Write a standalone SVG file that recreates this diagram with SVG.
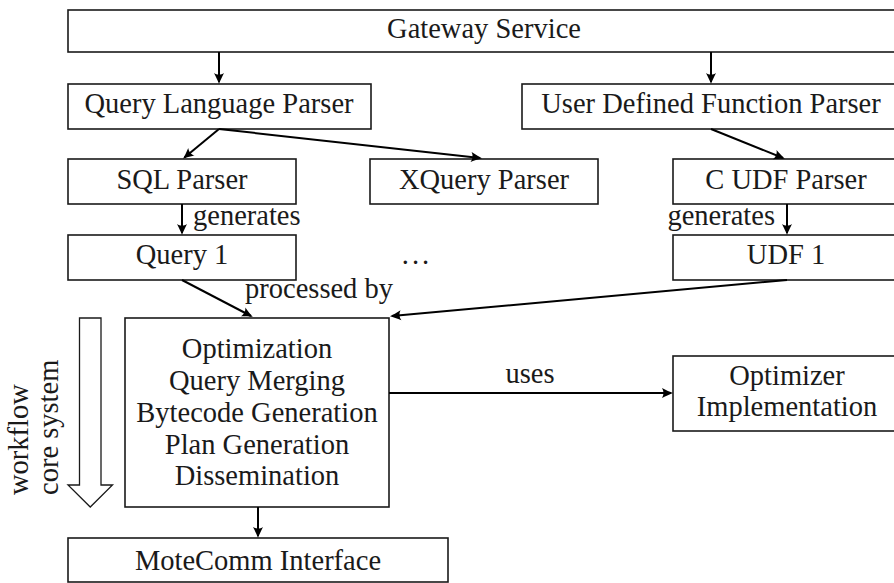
<svg xmlns="http://www.w3.org/2000/svg" width="894" height="583" viewBox="0 0 894 583">
  <style>
    .box { fill: #ffffff; stroke: #1a1a1a; stroke-width: 1.6; }
    .lbl { font-family: "Liberation Serif", "DejaVu Serif", serif; font-size: 28.5px; fill: #1a1a1a; }
    .mid { text-anchor: middle; }
    .end { text-anchor: end; }
    .edge { fill: none; stroke: #000000; stroke-width: 2; marker-end: url(#tip); }
  </style>
  <defs>
    <marker id="tip" markerUnits="userSpaceOnUse" markerWidth="16" markerHeight="12" viewBox="-12 -6 16 12" refX="0" refY="0" orient="auto" overflow="visible">
      <path d="M 2 0 C -1 -1 -5 -3 -9 -5 C -7 -2 -7 2 -9 5 C -5 3 -1 1 2 0 Z" fill="#000000"/>
    </marker>
  </defs>

  <rect width="894" height="583" fill="#ffffff"/>

  <!-- workflow indicator: hollow down arrow with rotated caption -->
  <g id="workflow">
    <polygon points="79.5,318 101,318 101,485 112.5,485 90.25,507 68,485 79.5,485" fill="#ffffff" stroke="#1a1a1a" stroke-width="1.3"/>
    <text class="lbl" x="28" y="495" transform="rotate(-90 28 495)">workflow</text>
    <text class="lbl" x="58" y="495" transform="rotate(-90 58 495)">core system</text>
  </g>

  <g id="gateway">
    <rect class="box" x="68" y="10" width="840" height="42"/>
    <text class="lbl mid" x="484" y="38">Gateway Service</text>
  </g>

  <g id="query-language-parser">
    <rect class="box" x="68" y="84" width="303" height="45"/>
    <text class="lbl mid" x="219" y="113">Query Language Parser</text>
  </g>

  <g id="udf-parser">
    <rect class="box" x="522" y="84" width="386" height="45"/>
    <text class="lbl mid" x="711" y="113">User Defined Function Parser</text>
  </g>

  <g id="sql-parser">
    <rect class="box" x="68" y="159" width="228" height="45"/>
    <text class="lbl mid" x="182" y="189">SQL Parser</text>
  </g>

  <g id="xquery-parser">
    <rect class="box" x="370" y="159" width="228" height="45"/>
    <text class="lbl mid" x="484" y="189">XQuery Parser</text>
  </g>

  <g id="c-udf-parser">
    <rect class="box" x="673" y="159" width="235" height="45"/>
    <text class="lbl mid" x="786" y="189">C UDF Parser</text>
  </g>

  <g id="query1">
    <rect class="box" x="68" y="235" width="228" height="45"/>
    <text class="lbl mid" x="182" y="264">Query 1</text>
  </g>

  <g id="ellipsis">
    <text class="lbl mid" x="417" y="264" letter-spacing="3">...</text>
  </g>

  <g id="udf1">
    <rect class="box" x="673" y="235" width="235" height="45"/>
    <text class="lbl mid" x="786" y="264">UDF 1</text>
  </g>

  <g id="core">
    <rect class="box" x="125" y="318" width="264" height="189"/>
    <text class="lbl mid" x="257" y="358">Optimization</text>
    <text class="lbl mid" x="257" y="390">Query Merging</text>
    <text class="lbl mid" x="257" y="422">Bytecode Generation</text>
    <text class="lbl mid" x="257" y="454">Plan Generation</text>
    <text class="lbl mid" x="257" y="485">Dissemination</text>
  </g>

  <g id="optimizer">
    <rect class="box" x="673" y="356" width="235" height="75"/>
    <text class="lbl mid" x="787" y="385">Optimizer</text>
    <text class="lbl mid" x="787" y="416">Implementation</text>
  </g>

  <g id="motecomm">
    <rect class="box" x="68" y="538" width="380" height="44"/>
    <text class="lbl mid" x="258" y="570">MoteComm Interface</text>
  </g>

  <g id="connectors">
    <line class="edge" x1="219" y1="52" x2="219" y2="82"/>
    <line class="edge" x1="711" y1="52" x2="711" y2="82"/>
    <line class="edge" x1="219" y1="129" x2="184.5" y2="157.5"/>
    <line class="edge" x1="219" y1="129" x2="480" y2="158"/>
    <line class="edge" x1="711" y1="129" x2="783" y2="158"/>
    <line class="edge" x1="182" y1="204" x2="182" y2="233"/>
    <line class="edge" x1="787" y1="204" x2="787" y2="233"/>
    <line class="edge" x1="182" y1="280" x2="251" y2="316"/>
    <line class="edge" x1="787" y1="280" x2="392" y2="316"/>
    <line class="edge" x1="389" y1="393" x2="671" y2="393"/>
    <line class="edge" x1="258" y1="507" x2="258" y2="536"/>
    <text class="lbl" x="193" y="225">generates</text>
    <text class="lbl end" x="775" y="225">generates</text>
    <text class="lbl" x="245" y="298">processed by</text>
    <text class="lbl mid" x="530" y="383">uses</text>
  </g>
</svg>
